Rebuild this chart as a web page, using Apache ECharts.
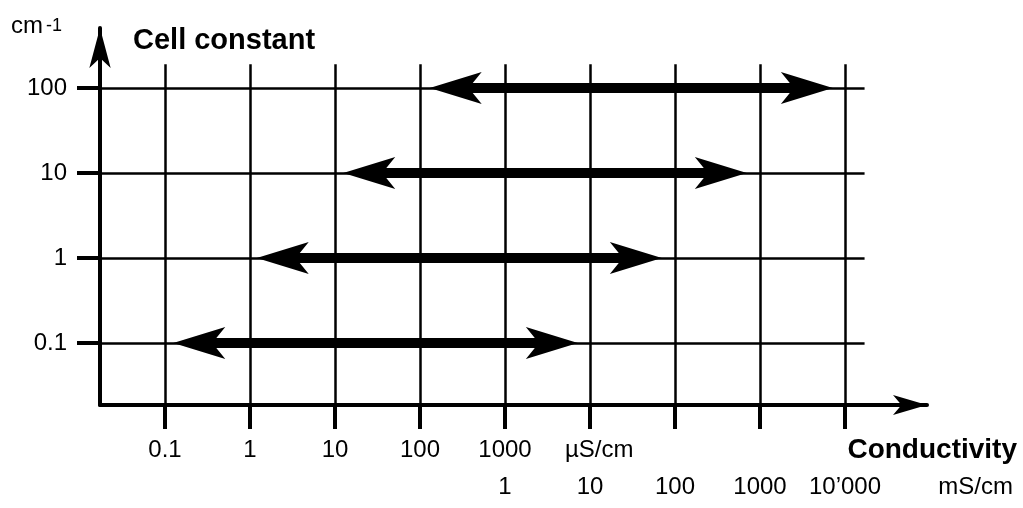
<!DOCTYPE html>
<html>
<head>
<meta charset="utf-8">
<script src="https://cdn.jsdelivr.net/npm/echarts@6/dist/echarts.min.js"></script>
<style>
  html, body { margin: 0; padding: 0; background: #fff; }
  #chart { width: 1023px; height: 508px; }
</style>
</head>
<body>
<div id="chart"></div>
<script>
// decades of conductivity (µS/cm) where the vertical grid lines sit
const gridDecades = [0.1, 1, 10, 100, 1000, 1e4, 1e5, 1e6, 1e7];
// first label row, µS/cm
const usTicks = [0.1, 1, 10, 100, 1000];
const usLabels = ["0.1", "1", "10", "100", "1000"];
// second label row, mS/cm
const msTicks = [1, 10, 100, 1000, 10000];
const msLabels = ["1", "10", "100", "1000", "10\u2019000"];
// cell constants (cm-1)
const cellConstants = [0.1, 1, 10, 100];
const cellLabels = ["0.1", "1", "10", "100"];
// measuring range of each cell, µS/cm (arrow tips)
const rangeLow = [0.125, 1.2, 12.5, 130];
const rangeHigh = [7200, 70000, 700000, 7200000];

// how far the grid lines run (data units)
const gridTopCell = 190;
const gridRightUS = 1.7e7;
// the thick shaft stops this many decades inside the arrow tips
const HEAD_INSET = 0.3;

const lg = Math.log10;
const font = '"Liberation Sans", Arial, Helvetica, sans-serif';
const X_MIN = -1.765, X_MAX = 7.965;
const Y_MIN = -1.729, Y_MAX = 2.706;

function lookup(ticks, labels, v) {
  const i = ticks.findIndex((t) => Math.abs(lg(t) - v) < 1e-6);
  return i < 0 ? "" : labels[i];
}

const chart = echarts.init(document.getElementById("chart"), null, { renderer: "canvas" });

const gridLines = [];
gridDecades.forEach((d) => {
  gridLines.push([{ coord: [lg(d), Y_MIN] }, { coord: [lg(d), lg(gridTopCell)] }]);
});
cellConstants.forEach((c) => {
  gridLines.push([{ coord: [X_MIN, lg(c)] }, { coord: [lg(gridRightUS), lg(c)] }]);
});

const arrowHeads = cellConstants.map((c, i) => [
  { coord: [lg(rangeLow[i]), lg(c)] },
  { coord: [lg(rangeHigh[i]), lg(c)] },
]);
const arrowShafts = cellConstants.map((c, i) => [
  { coord: [lg(rangeLow[i]) + HEAD_INSET, lg(c)] },
  { coord: [lg(rangeHigh[i]) - HEAD_INSET, lg(c)] },
]);

const labelStyle = { color: "#000", fontSize: 24, fontFamily: font };

chart.setOption({
  animation: false,
  backgroundColor: "#fff",
  grid: { left: 100, right: 96, top: 28, bottom: 103, containLabel: false },
  xAxis: [
    {
      type: "value",
      min: X_MIN,
      max: X_MAX,
      axisLine: {
        show: true,
        onZero: false,
        symbol: ["none", "arrow"],
        symbolSize: [15, 34],
        lineStyle: { color: "#000", width: 4 },
      },
      axisTick: {
        show: true,
        customValues: gridDecades.map(lg),
        length: 24,
        lineStyle: { color: "#000", width: 4 },
      },
      axisLabel: {
        customValues: usTicks.map(lg),
        formatter: (v) => lookup(usTicks, usLabels, v),
        margin: 33,
        ...labelStyle,
      },
      splitLine: { show: false },
    },
    {
      type: "value",
      position: "bottom",
      offset: 37,
      min: X_MIN,
      max: X_MAX,
      axisLine: { show: false, onZero: false },
      axisTick: { show: false },
      axisLabel: {
        customValues: msTicks.map((m) => lg(m * 1000)),
        formatter: (v) => lookup(msTicks.map((m) => m * 1000), msLabels, v),
        margin: 33,
        ...labelStyle,
      },
      splitLine: { show: false },
    },
  ],
  yAxis: {
    type: "value",
    min: Y_MIN,
    max: Y_MAX,
    axisLine: {
      show: true,
      onZero: false,
      symbol: ["none", "arrow"],
      symbolSize: [16, 40],
      lineStyle: { color: "#000", width: 4 },
    },
    axisTick: {
      show: true,
      customValues: cellConstants.map(lg),
      length: 23,
      lineStyle: { color: "#000", width: 4 },
    },
    axisLabel: {
      customValues: cellConstants.map(lg),
      formatter: (v) => lookup(cellConstants, cellLabels, v),
      margin: 33,
      ...labelStyle,
    },
    splitLine: { show: false },
  },
  series: [
    {
      type: "line",
      data: [],
      clip: false,
      color: "#000",
      markLine: {
        silent: true,
        symbol: "none",
        label: { show: false },
        lineStyle: { color: "#000", width: 2.5, type: "solid" },
        data: gridLines,
      },
    },
    {
      type: "line",
      data: [],
      clip: false,
      color: "#000",
      markLine: {
        silent: true,
        symbol: "none",
        label: { show: false },
        lineStyle: { color: "#000", width: 10, type: "solid" },
        data: arrowShafts,
      },
    },
    {
      type: "line",
      data: [],
      clip: false,
      color: "#000",
      markLine: {
        silent: true,
        symbol: ["arrow", "arrow"],
        symbolSize: [24, 52],
        label: { show: false },
        lineStyle: { color: "#000", width: 0, type: "solid" },
        data: arrowHeads,
      },
    },
  ],
  graphic: [
    {
      type: "text",
      left: 11,
      top: 14,
      style: {
        text: "{a|cm}{b|-1}",
        rich: {
          a: { fontSize: 24, fontFamily: font, fill: "#000", verticalAlign: "bottom" },
          b: { fontSize: 18, fontFamily: font, fill: "#000", verticalAlign: "bottom", padding: [0, 0, 3, 3] },
        },
      },
    },
    {
      type: "text",
      left: 133,
      top: 26,
      style: { text: "Cell constant", fontSize: 29, fontWeight: "bold", fontFamily: font, fill: "#000" },
    },
    {
      type: "text",
      right: 6,
      top: 436,
      style: { text: "Conductivity", fontSize: 28, fontWeight: "bold", fontFamily: font, fill: "#000" },
    },
    {
      type: "text",
      left: 565,
      top: 438,
      style: { text: "\u00b5S/cm", fontSize: 24, fontFamily: font, fill: "#000" },
    },
    {
      type: "text",
      right: 10,
      top: 475,
      style: { text: "mS/cm", fontSize: 24, fontFamily: font, fill: "#000" },
    },
  ],
});
</script>
</body>
</html>
